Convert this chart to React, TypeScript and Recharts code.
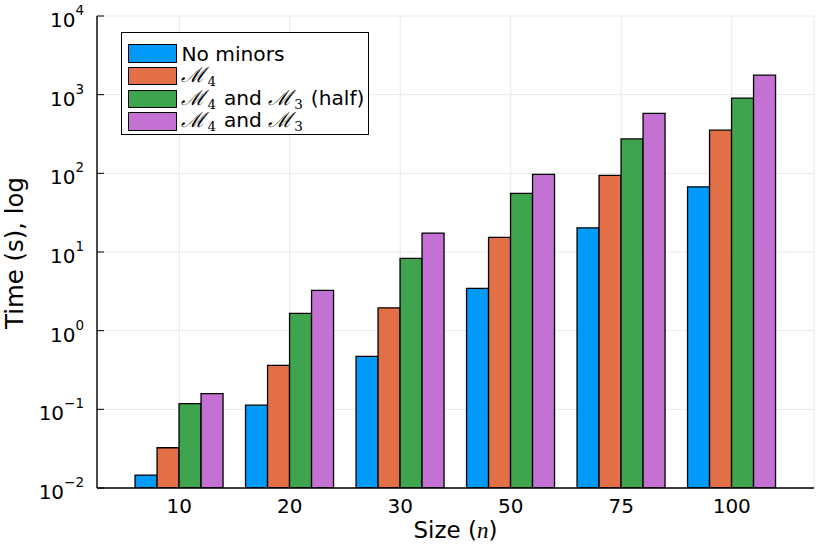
import React from 'react';
import { BarChart, Bar, XAxis, YAxis, CartesianGrid, Legend, Label } from 'recharts';

const sizes = ['10', '20', '30', '50', '75', '100'];
const noMinors = [0.0146, 0.113, 0.471, 3.45, 20.3, 67.4];
const m4 = [0.0325, 0.362, 1.95, 15.3, 94, 354];
const m4m3Half = [0.118, 1.66, 8.3, 55.6, 274, 903];
const m4m3 = [0.158, 3.25, 17.4, 96.8, 577, 1770];

const yTicks = [0.01, 0.1, 1, 10, 100, 1000, 10000];
const yTickExponents = ['\u22122', '\u22121', '0', '1', '2', '3', '4'];

const FONT = '"DejaVu Sans", sans-serif';
const MATH = '"DejaVu Serif", serif';

const data = sizes.map((s, i) => ({
  size: s,
  noMinors: noMinors[i],
  m4: m4[i],
  m4m3Half: m4m3Half[i],
  m4m3: m4m3[i],
}));

const MathM = ({ sub }: { sub: string }) => (
  <span style={{ whiteSpace: 'nowrap' }}>
    <span style={{ fontFamily: MATH, fontStyle: 'italic', fontSize: 21 }}>{'\u2133'}</span>
    <span style={{ fontFamily: MATH, fontSize: 13.5, position: 'relative', top: 4, marginLeft: 2, marginRight: 1.5 }}>{sub}</span>
  </span>
);

const series = [
  { key: 'noMinors', color: '#009AFA', label: <>No minors</> },
  { key: 'm4', color: '#E36F47', label: <MathM sub="4" /> },
  { key: 'm4m3Half', color: '#3EA44E', label: <><MathM sub="4" /> and <MathM sub="3" /> (half)</> },
  { key: 'm4m3', color: '#C371D2', label: <><MathM sub="4" /> and <MathM sub="3" /></> },
];

const LegendBox = () => (
  <div
    style={{
      border: '1.3px solid #000',
      background: '#fff',
      boxSizing: 'border-box',
      width: 248,
      padding: '9.3px 0 1.5px 0',
      fontFamily: FONT,
      fontSize: 20.2,
      color: '#000',
    }}
  >
    {series.map((s) => (
      <div key={s.key} style={{ display: 'flex', alignItems: 'center', height: 22.6 }}>
        <div
          style={{
            width: 48.5,
            height: 18.4,
            background: s.color,
            border: '1.3px solid #000',
            boxSizing: 'border-box',
            marginLeft: 6.1,
            marginRight: 4.8,
            flex: 'none',
          }}
        />
        <span style={{ lineHeight: '22px', whiteSpace: 'nowrap' }}>{s.label}</span>
      </div>
    ))}
  </div>
);

const YTick = (props: any) => {
  const { x, y, index } = props;
  return (
    <g>
      <line x1={x + 13} x2={x + 20} y1={y} y2={y} stroke="#000" strokeWidth={1} />
      <text x={x} y={y + 11} textAnchor="end" fontFamily={FONT} fontSize={20} fill="#000">
        10
        <tspan dy={-12} fontSize={13.5}>{yTickExponents[index]}</tspan>
      </text>
    </g>
  );
};

const XTick = (props: any) => {
  const { x, y, payload } = props;
  return (
    <text x={x} y={y + 25} textAnchor="middle" fontFamily={FONT} fontSize={20} fill="#000">
      {payload.value}
    </text>
  );
};

const XTitle = (props: any) => {
  const vb = props.viewBox;
  return (
    <text x={vb.x + vb.width / 2} y={vb.y + 49.5} textAnchor="middle" fontFamily={FONT} fontSize={23} fill="#000">
      Size (<tspan fontFamily='"Liberation Serif", serif' fontStyle="italic">n</tspan>)
    </text>
  );
};

const YTitle = (props: any) => {
  const vb = props.viewBox;
  const cy = vb.y + vb.height / 2 + 1;
  return (
    <text
      transform={`translate(${vb.x + 23}, ${cy}) rotate(-90)`}
      x={0}
      y={0}
      textAnchor="middle"
      fontFamily={FONT}
      fontSize={24.4}
      fill="#000"
    >
      Time (s), log
    </text>
  );
};

export default function App() {
  return (
    <div style={{ position: 'absolute', left: 0, top: 0, width: 830, height: 554, background: '#fff' }}>
      <BarChart
        width={830}
        height={554}
        data={data}
        margin={{ top: 16, right: 16, bottom: 0, left: 0 }}
        barCategoryGap="10%"
        barGap={0}
      >
        <CartesianGrid stroke="#e9e9e9" strokeWidth={1} />
        <XAxis
          dataKey="size"
          height={66}
          padding={{ left: 27, right: 27 }}
          tickLine={false}
          tickSize={0}
          tickMargin={0}
          axisLine={{ stroke: '#000', strokeWidth: 1.4 }}
          tick={<XTick />}
          interval={0}
        >
          <Label content={<XTitle />} />
        </XAxis>
        <YAxis
          type="number"
          scale="log"
          domain={[0.01, 10000]}
          ticks={yTicks}
          allowDataOverflow
          width={97}
          tickLine={false}
          tickSize={0}
          tickMargin={13}
          axisLine={{ stroke: '#000', strokeWidth: 1.4 }}
          tick={<YTick />}
          interval={0}
        >
          <Label content={<YTitle />} />
        </YAxis>
        <Legend
          layout="vertical"
          align="center"
          verticalAlign="middle"
          content={<LegendBox />}
          wrapperStyle={{ left: 121, top: 32, width: 248, height: 'auto' }}
        />
        {series.map((s) => (
          <Bar
            key={s.key}
            dataKey={s.key}
            fill={s.color}
            stroke="#000"
            strokeWidth={1.3}
            isAnimationActive={false}
          />
        ))}
      </BarChart>
    </div>
  );
}
